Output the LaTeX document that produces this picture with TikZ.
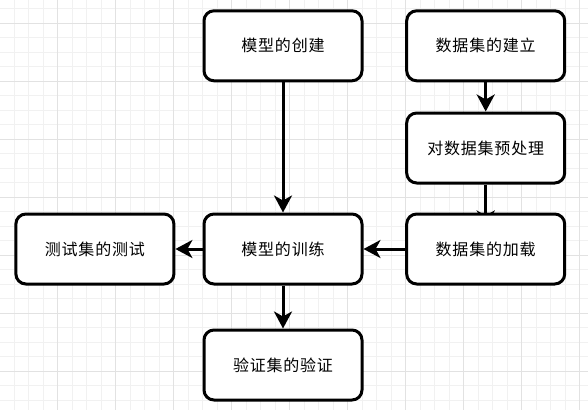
\documentclass[tikz,border=0pt]{standalone}
\usepackage{fontspec}
\newfontfamily\cjk[LetterSpace=5]{Noto Sans CJK SC}
\usetikzlibrary{arrows.meta,calc,backgrounds}
\definecolor{gridminor}{RGB}{241,241,241}
\definecolor{gridmajor}{RGB}{226,226,226}
\tikzset{
  box/.style={draw=black, fill=white, line width=3pt, rounded corners=10pt,
    minimum width=158pt, minimum height=70pt, inner sep=0pt,
    font=\cjk\fontsize{16pt}{19pt}\selectfont},
  arr/.style={draw=black, line width=3pt,
    -{Stealth[length=17pt,width=18pt,inset=5pt]}},
  gminor/.style={draw=gridminor, line width=0.8pt},
  gmajor/.style={draw=gridmajor, line width=0.8pt}
}
\begin{document}
\begin{tikzpicture}[x=1pt,y=-1pt]
\useasboundingbox (0,0) rectangle (588,410);
\begin{pgfonlayer}{background}
\fill[white] (0,0) rectangle (588,410);
\foreach \i in {0,...,41} {
  \draw[gminor] ({-0.3+14.5*\i},0) -- ++(0,410);
}
\foreach \i in {-2,...,28} {
  \draw[gminor] (0,{23.2+14.5*\i}) -- ++(588,0);
}
\foreach \i in {0,...,10} {
  \draw[gmajor] ({-0.3+58*\i},0) -- ++(0,410);
}
\foreach \i in {-1,...,7} {
  \draw[gmajor] (0,{23.2+58*\i}) -- ++(588,0);
}
\end{pgfonlayer}
\node[box] (create)  at (283,45.8)   {模型的创建};
\node[box] (build)   at (485.7,45.8) {数据集的建立};
\node[box] (preproc) at (485.7,148)  {对数据集预处理};
\node[box] (load)    at (485.7,249)  {数据集的加载};
\node[box] (train)   at (283,249)    {模型的训练};
\node[box] (test)    at (94.9,249)   {测试集的测试};
\node[box] (verify)  at (283,365)    {验证集的验证};
\coordinate (loadin) at ($(load.north)+(0,15)$);
\begin{pgfonlayer}{background}
\draw[arr] (preproc) -- (loadin);
\end{pgfonlayer}
\draw[arr] (build) -- (preproc);
\draw[arr] (create) -- (train);
\draw[arr] (load) -- (train);
\draw[arr] (train) -- (test);
\draw[arr] (train) -- (verify);
\end{tikzpicture}
\end{document}
